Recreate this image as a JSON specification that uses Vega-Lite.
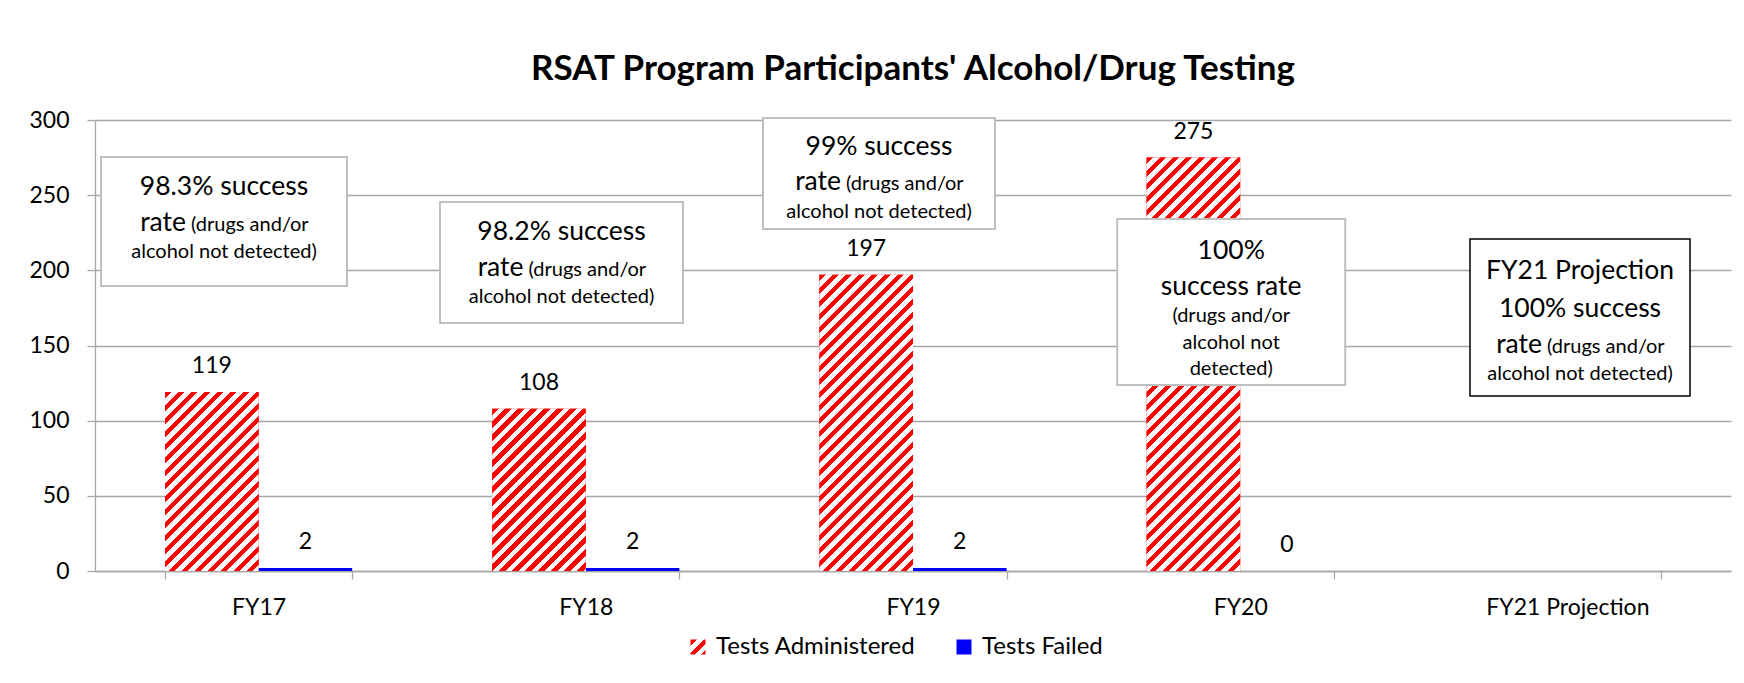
{
  "$schema": "https://vega.github.io/schema/vega-lite/v6.json",
  "width": 1636,
  "height": 451,
  "autosize": {"type": "none"},
  "padding": {"left": 95, "top": 120, "right": 13, "bottom": 112},
  "background": "#ffffff",
  "config": {
    "font": "Lato",
    "view": {"stroke": null},
    "axis": {"labelFont": "Lato", "labelFontSize": 23, "labelColor": "#000000", "domainColor": "#a6a6a6", "tickColor": "#a6a6a6", "gridColor": "#a6a6a6", "tickSize": 8, "domainWidth": 1.3, "tickWidth": 1.3, "gridWidth": 1.3}
  },
  "title": {"text": "RSAT Program Participants' Alcohol/Drug Testing", "font": "Lato", "fontSize": 35, "fontWeight": "bold", "color": "#000000", "anchor": "middle", "baseline": "alphabetic", "offset": -6},
  "params": [
    {"name": "stripes", "value": [
      {"offset":0,"color":"#f00"},{"offset":0.0083,"color":"#f00"},{"offset":0.0083,"color":"#fff"},{"offset":0.0167,"color":"#fff"},
      {"offset":0.0167,"color":"#f00"},{"offset":0.025,"color":"#f00"},{"offset":0.025,"color":"#fff"},{"offset":0.0333,"color":"#fff"},
      {"offset":0.0333,"color":"#f00"},{"offset":0.0417,"color":"#f00"},{"offset":0.0417,"color":"#fff"},{"offset":0.05,"color":"#fff"},
      {"offset":0.05,"color":"#f00"},{"offset":0.0583,"color":"#f00"},{"offset":0.0583,"color":"#fff"},{"offset":0.0667,"color":"#fff"},
      {"offset":0.0667,"color":"#f00"},{"offset":0.075,"color":"#f00"},{"offset":0.075,"color":"#fff"},{"offset":0.0833,"color":"#fff"},
      {"offset":0.0833,"color":"#f00"},{"offset":0.0917,"color":"#f00"},{"offset":0.0917,"color":"#fff"},{"offset":0.1,"color":"#fff"},
      {"offset":0.1,"color":"#f00"},{"offset":0.1083,"color":"#f00"},{"offset":0.1083,"color":"#fff"},{"offset":0.1167,"color":"#fff"},
      {"offset":0.1167,"color":"#f00"},{"offset":0.125,"color":"#f00"},{"offset":0.125,"color":"#fff"},{"offset":0.1333,"color":"#fff"},
      {"offset":0.1333,"color":"#f00"},{"offset":0.1417,"color":"#f00"},{"offset":0.1417,"color":"#fff"},{"offset":0.15,"color":"#fff"},
      {"offset":0.15,"color":"#f00"},{"offset":0.1583,"color":"#f00"},{"offset":0.1583,"color":"#fff"},{"offset":0.1667,"color":"#fff"},
      {"offset":0.1667,"color":"#f00"},{"offset":0.175,"color":"#f00"},{"offset":0.175,"color":"#fff"},{"offset":0.1833,"color":"#fff"},
      {"offset":0.1833,"color":"#f00"},{"offset":0.1917,"color":"#f00"},{"offset":0.1917,"color":"#fff"},{"offset":0.2,"color":"#fff"},
      {"offset":0.2,"color":"#f00"},{"offset":0.2083,"color":"#f00"},{"offset":0.2083,"color":"#fff"},{"offset":0.2167,"color":"#fff"},
      {"offset":0.2167,"color":"#f00"},{"offset":0.225,"color":"#f00"},{"offset":0.225,"color":"#fff"},{"offset":0.2333,"color":"#fff"},
      {"offset":0.2333,"color":"#f00"},{"offset":0.2417,"color":"#f00"},{"offset":0.2417,"color":"#fff"},{"offset":0.25,"color":"#fff"},
      {"offset":0.25,"color":"#f00"},{"offset":0.2583,"color":"#f00"},{"offset":0.2583,"color":"#fff"},{"offset":0.2667,"color":"#fff"},
      {"offset":0.2667,"color":"#f00"},{"offset":0.275,"color":"#f00"},{"offset":0.275,"color":"#fff"},{"offset":0.2833,"color":"#fff"},
      {"offset":0.2833,"color":"#f00"},{"offset":0.2917,"color":"#f00"},{"offset":0.2917,"color":"#fff"},{"offset":0.3,"color":"#fff"},
      {"offset":0.3,"color":"#f00"},{"offset":0.3083,"color":"#f00"},{"offset":0.3083,"color":"#fff"},{"offset":0.3167,"color":"#fff"},
      {"offset":0.3167,"color":"#f00"},{"offset":0.325,"color":"#f00"},{"offset":0.325,"color":"#fff"},{"offset":0.3333,"color":"#fff"},
      {"offset":0.3333,"color":"#f00"},{"offset":0.3417,"color":"#f00"},{"offset":0.3417,"color":"#fff"},{"offset":0.35,"color":"#fff"},
      {"offset":0.35,"color":"#f00"},{"offset":0.3583,"color":"#f00"},{"offset":0.3583,"color":"#fff"},{"offset":0.3667,"color":"#fff"},
      {"offset":0.3667,"color":"#f00"},{"offset":0.375,"color":"#f00"},{"offset":0.375,"color":"#fff"},{"offset":0.3833,"color":"#fff"},
      {"offset":0.3833,"color":"#f00"},{"offset":0.3917,"color":"#f00"},{"offset":0.3917,"color":"#fff"},{"offset":0.4,"color":"#fff"},
      {"offset":0.4,"color":"#f00"},{"offset":0.4083,"color":"#f00"},{"offset":0.4083,"color":"#fff"},{"offset":0.4167,"color":"#fff"},
      {"offset":0.4167,"color":"#f00"},{"offset":0.425,"color":"#f00"},{"offset":0.425,"color":"#fff"},{"offset":0.4333,"color":"#fff"},
      {"offset":0.4333,"color":"#f00"},{"offset":0.4417,"color":"#f00"},{"offset":0.4417,"color":"#fff"},{"offset":0.45,"color":"#fff"},
      {"offset":0.45,"color":"#f00"},{"offset":0.4583,"color":"#f00"},{"offset":0.4583,"color":"#fff"},{"offset":0.4667,"color":"#fff"},
      {"offset":0.4667,"color":"#f00"},{"offset":0.475,"color":"#f00"},{"offset":0.475,"color":"#fff"},{"offset":0.4833,"color":"#fff"},
      {"offset":0.4833,"color":"#f00"},{"offset":0.4917,"color":"#f00"},{"offset":0.4917,"color":"#fff"},{"offset":0.5,"color":"#fff"},
      {"offset":0.5,"color":"#f00"},{"offset":0.5083,"color":"#f00"},{"offset":0.5083,"color":"#fff"},{"offset":0.5167,"color":"#fff"},
      {"offset":0.5167,"color":"#f00"},{"offset":0.525,"color":"#f00"},{"offset":0.525,"color":"#fff"},{"offset":0.5333,"color":"#fff"},
      {"offset":0.5333,"color":"#f00"},{"offset":0.5417,"color":"#f00"},{"offset":0.5417,"color":"#fff"},{"offset":0.55,"color":"#fff"},
      {"offset":0.55,"color":"#f00"},{"offset":0.5583,"color":"#f00"},{"offset":0.5583,"color":"#fff"},{"offset":0.5667,"color":"#fff"},
      {"offset":0.5667,"color":"#f00"},{"offset":0.575,"color":"#f00"},{"offset":0.575,"color":"#fff"},{"offset":0.5833,"color":"#fff"},
      {"offset":0.5833,"color":"#f00"},{"offset":0.5917,"color":"#f00"},{"offset":0.5917,"color":"#fff"},{"offset":0.6,"color":"#fff"},
      {"offset":0.6,"color":"#f00"},{"offset":0.6083,"color":"#f00"},{"offset":0.6083,"color":"#fff"},{"offset":0.6167,"color":"#fff"},
      {"offset":0.6167,"color":"#f00"},{"offset":0.625,"color":"#f00"},{"offset":0.625,"color":"#fff"},{"offset":0.6333,"color":"#fff"},
      {"offset":0.6333,"color":"#f00"},{"offset":0.6417,"color":"#f00"},{"offset":0.6417,"color":"#fff"},{"offset":0.65,"color":"#fff"},
      {"offset":0.65,"color":"#f00"},{"offset":0.6583,"color":"#f00"},{"offset":0.6583,"color":"#fff"},{"offset":0.6667,"color":"#fff"},
      {"offset":0.6667,"color":"#f00"},{"offset":0.675,"color":"#f00"},{"offset":0.675,"color":"#fff"},{"offset":0.6833,"color":"#fff"},
      {"offset":0.6833,"color":"#f00"},{"offset":0.6917,"color":"#f00"},{"offset":0.6917,"color":"#fff"},{"offset":0.7,"color":"#fff"},
      {"offset":0.7,"color":"#f00"},{"offset":0.7083,"color":"#f00"},{"offset":0.7083,"color":"#fff"},{"offset":0.7167,"color":"#fff"},
      {"offset":0.7167,"color":"#f00"},{"offset":0.725,"color":"#f00"},{"offset":0.725,"color":"#fff"},{"offset":0.7333,"color":"#fff"},
      {"offset":0.7333,"color":"#f00"},{"offset":0.7417,"color":"#f00"},{"offset":0.7417,"color":"#fff"},{"offset":0.75,"color":"#fff"},
      {"offset":0.75,"color":"#f00"},{"offset":0.7583,"color":"#f00"},{"offset":0.7583,"color":"#fff"},{"offset":0.7667,"color":"#fff"},
      {"offset":0.7667,"color":"#f00"},{"offset":0.775,"color":"#f00"},{"offset":0.775,"color":"#fff"},{"offset":0.7833,"color":"#fff"},
      {"offset":0.7833,"color":"#f00"},{"offset":0.7917,"color":"#f00"},{"offset":0.7917,"color":"#fff"},{"offset":0.8,"color":"#fff"},
      {"offset":0.8,"color":"#f00"},{"offset":0.8083,"color":"#f00"},{"offset":0.8083,"color":"#fff"},{"offset":0.8167,"color":"#fff"},
      {"offset":0.8167,"color":"#f00"},{"offset":0.825,"color":"#f00"},{"offset":0.825,"color":"#fff"},{"offset":0.8333,"color":"#fff"},
      {"offset":0.8333,"color":"#f00"},{"offset":0.8417,"color":"#f00"},{"offset":0.8417,"color":"#fff"},{"offset":0.85,"color":"#fff"},
      {"offset":0.85,"color":"#f00"},{"offset":0.8583,"color":"#f00"},{"offset":0.8583,"color":"#fff"},{"offset":0.8667,"color":"#fff"},
      {"offset":0.8667,"color":"#f00"},{"offset":0.875,"color":"#f00"},{"offset":0.875,"color":"#fff"},{"offset":0.8833,"color":"#fff"},
      {"offset":0.8833,"color":"#f00"},{"offset":0.8917,"color":"#f00"},{"offset":0.8917,"color":"#fff"},{"offset":0.9,"color":"#fff"},
      {"offset":0.9,"color":"#f00"},{"offset":0.9083,"color":"#f00"},{"offset":0.9083,"color":"#fff"},{"offset":0.9167,"color":"#fff"},
      {"offset":0.9167,"color":"#f00"},{"offset":0.925,"color":"#f00"},{"offset":0.925,"color":"#fff"},{"offset":0.9333,"color":"#fff"},
      {"offset":0.9333,"color":"#f00"},{"offset":0.9417,"color":"#f00"},{"offset":0.9417,"color":"#fff"},{"offset":0.95,"color":"#fff"},
      {"offset":0.95,"color":"#f00"},{"offset":0.9583,"color":"#f00"},{"offset":0.9583,"color":"#fff"},{"offset":0.9667,"color":"#fff"},
      {"offset":0.9667,"color":"#f00"},{"offset":0.975,"color":"#f00"},{"offset":0.975,"color":"#fff"},{"offset":0.9833,"color":"#fff"},
      {"offset":0.9833,"color":"#f00"},{"offset":0.9917,"color":"#f00"},{"offset":0.9917,"color":"#fff"},{"offset":1,"color":"#fff"}
    ]}
  ],
  "datasets": {
    "tests": [
      {"year": "FY17", "series": "Tests Administered", "value": 119},
      {"year": "FY17", "series": "Tests Failed", "value": 2},
      {"year": "FY18", "series": "Tests Administered", "value": 108},
      {"year": "FY18", "series": "Tests Failed", "value": 2},
      {"year": "FY19", "series": "Tests Administered", "value": 197},
      {"year": "FY19", "series": "Tests Failed", "value": 2},
      {"year": "FY20", "series": "Tests Administered", "value": 275},
      {"year": "FY20", "series": "Tests Failed", "value": 0}
    ]
  },
  "layer": [
    {
      "data": {"name": "tests"},
      "mark": {"type": "bar"},
      "encoding": {
        "x": {"field": "year", "type": "nominal", "title": null, "sort": null,
              "scale": {"domain": ["FY17", "FY18", "FY19", "FY20", "FY21 Projection"], "paddingInner": 0.428, "paddingOuter": 0.214},
              "axis": {"labelAngle": 0, "tickBand": "extent", "labelPadding": 17, "grid": false}},
        "xOffset": {"field": "series", "type": "nominal", "scale": {"domain": ["Tests Administered", "Tests Failed"], "paddingInner": 0, "paddingOuter": 0}},
        "y": {"field": "value", "type": "quantitative", "title": null, "stack": null,
              "scale": {"domain": [0, 300], "nice": false},
              "axis": {"values": [0, 50, 100, 150, 200, 250, 300], "grid": true, "labelPadding": 18}},
        "fill": {"condition": {"test": "datum.series === 'Tests Failed'", "value": "#0000ff"}, "value": "#ff0000"}
      }
    },
    {
      "data": {"name": "tests"},
      "transform": [{"filter": "datum.series === 'Tests Administered'"}],
      "mark": {"type": "bar", "fill": {"expr": "{gradient: 'linear', x1: 0, y1: 0, x2: bandwidth('xOffset') * 780 / (pow(bandwidth('xOffset'), 2) + pow(scale('y', 0) - scale('y', datum.value), 2)), y2: (scale('y', 0) - scale('y', datum.value)) * 780 / (pow(bandwidth('xOffset'), 2) + pow(scale('y', 0) - scale('y', datum.value), 2)), stops: stripes}"}},
      "encoding": {
        "x": {"field": "year", "type": "nominal", "title": null, "sort": null},
        "xOffset": {"field": "series", "type": "nominal"},
        "y": {"field": "value", "type": "quantitative", "title": null, "stack": null}
      }
    },
    {
      "data": {"name": "tests"},
      "transform": [{"filter": "false"}],
      "mark": {"type": "point", "filled": true, "opacity": 1, "size": 225, "strokeWidth": 0,
               "fill": {"expr": "datum.value === 'Tests Administered' ? {gradient: 'linear', x1: 0, y1: 0, x2: 26, y2: 26, stops: stripes} : '#0000ff'"}},
      "encoding": {
        "x": {"field": "year", "type": "nominal", "title": null, "sort": null},
        "y": {"field": "value", "type": "quantitative", "title": null},
        "shape": {"field": "series", "type": "nominal",
                  "scale": {"domain": ["Tests Administered", "Tests Failed"], "range": ["square", "square"]},
                  "legend": {"orient": "none", "legendX": 591, "legendY": 515, "direction": "horizontal", "title": null,
                             "symbolSize": 225, "symbolStrokeWidth": 0, "symbolOpacity": 1, "labelLimit": 400,
                             "labelFont": "Lato", "labelFontSize": 24, "labelColor": "#000000", "labelOffset": 6, "columnPadding": 36}}
      }
    },
    {
      "data": {"name": "tests"},
      "mark": {"type": "text", "font": "Lato", "fontSize": 23, "fill": "#000000", "baseline": "alphabetic", "dy": -19},
      "encoding": {
        "x": {"field": "year", "type": "nominal", "title": null, "sort": null},
        "xOffset": {"field": "series", "type": "nominal"},
        "y": {"field": "value", "type": "quantitative", "title": null, "stack": null},
        "text": {"field": "value", "type": "quantitative"}
      }
    },
    {
      "data": {"values": [{"year": "FY17", "top": 275.4, "bottom": 189.6, "big": "98.3% success", "rate": "rate", "paren": "(drugs and/or", "small": "alcohol not detected)"}]},
      "encoding": {"x": {"field": "year", "type": "nominal", "title": null, "sort": null}, "y": {"field": "top", "type": "quantitative", "title": null}},
      "layer": [
        {"mark": {"type": "bar", "width": 246, "xOffset": -34.6, "fill": "#ffffff", "stroke": "#bfbfbf", "strokeWidth": 2}, "encoding": {"y2": {"field": "bottom"}}},
        {"mark": {"type": "text", "font": "Lato", "fontSize": 26.5, "fill": "#000000", "align": "center", "baseline": "alphabetic", "dy": 38, "xOffset": -34.6}, "encoding": {"text": {"field": "big"}}},
        {"mark": {"type": "text", "font": "Lato", "fontSize": 26.5, "fill": "#000000", "align": "right", "baseline": "alphabetic", "dy": 74, "xOffset": -72.6}, "encoding": {"text": {"field": "rate"}}},
        {"mark": {"type": "text", "font": "Lato", "fontSize": 20, "fill": "#000000", "align": "left", "baseline": "alphabetic", "dy": 74, "xOffset": -67.6}, "encoding": {"text": {"field": "paren"}}},
        {"mark": {"type": "text", "font": "Lato", "fontSize": 20, "fill": "#000000", "align": "center", "baseline": "alphabetic", "dy": 101, "xOffset": -34.6}, "encoding": {"text": {"field": "small"}}}
      ]
    },
    {
      "data": {"values": [{"year": "FY18", "top": 245.5, "bottom": 165.0, "big": "98.2% success", "rate": "rate", "paren": "(drugs and/or", "small": "alcohol not detected)"}]},
      "encoding": {"x": {"field": "year", "type": "nominal", "title": null, "sort": null}, "y": {"field": "top", "type": "quantitative", "title": null}},
      "layer": [
        {"mark": {"type": "bar", "width": 243, "xOffset": -24.3, "fill": "#ffffff", "stroke": "#bfbfbf", "strokeWidth": 2}, "encoding": {"y2": {"field": "bottom"}}},
        {"mark": {"type": "text", "font": "Lato", "fontSize": 26.5, "fill": "#000000", "align": "center", "baseline": "alphabetic", "dy": 38, "xOffset": -24.3}, "encoding": {"text": {"field": "big"}}},
        {"mark": {"type": "text", "font": "Lato", "fontSize": 26.5, "fill": "#000000", "align": "right", "baseline": "alphabetic", "dy": 74, "xOffset": -62.3}, "encoding": {"text": {"field": "rate"}}},
        {"mark": {"type": "text", "font": "Lato", "fontSize": 20, "fill": "#000000", "align": "left", "baseline": "alphabetic", "dy": 74, "xOffset": -57.3}, "encoding": {"text": {"field": "paren"}}},
        {"mark": {"type": "text", "font": "Lato", "fontSize": 20, "fill": "#000000", "align": "center", "baseline": "alphabetic", "dy": 101, "xOffset": -24.3}, "encoding": {"text": {"field": "small"}}}
      ]
    },
    {
      "data": {"values": [{"year": "FY19", "top": 301.3, "bottom": 227.5, "big": "99% success", "rate": "rate", "paren": "(drugs and/or", "small": "alcohol not detected)"}]},
      "encoding": {"x": {"field": "year", "type": "nominal", "title": null, "sort": null}, "y": {"field": "top", "type": "quantitative", "title": null}},
      "layer": [
        {"mark": {"type": "bar", "width": 232, "xOffset": -34, "fill": "#ffffff", "stroke": "#bfbfbf", "strokeWidth": 2}, "encoding": {"y2": {"field": "bottom"}}},
        {"mark": {"type": "text", "font": "Lato", "fontSize": 26.5, "fill": "#000000", "align": "center", "baseline": "alphabetic", "dy": 37, "xOffset": -34}, "encoding": {"text": {"field": "big"}}},
        {"mark": {"type": "text", "font": "Lato", "fontSize": 26.5, "fill": "#000000", "align": "right", "baseline": "alphabetic", "dy": 72, "xOffset": -72}, "encoding": {"text": {"field": "rate"}}},
        {"mark": {"type": "text", "font": "Lato", "fontSize": 20, "fill": "#000000", "align": "left", "baseline": "alphabetic", "dy": 72, "xOffset": -67}, "encoding": {"text": {"field": "paren"}}},
        {"mark": {"type": "text", "font": "Lato", "fontSize": 20, "fill": "#000000", "align": "center", "baseline": "alphabetic", "dy": 100, "xOffset": -34}, "encoding": {"text": {"field": "small"}}}
      ]
    },
    {
      "data": {"values": [{"year": "FY20", "top": 234.1, "bottom": 123.7, "big": ["100%", "success rate"], "small": ["(drugs and/or", "alcohol not", "detected)"]}]},
      "encoding": {"x": {"field": "year", "type": "nominal", "title": null, "sort": null}, "y": {"field": "top", "type": "quantitative", "title": null}},
      "layer": [
        {"mark": {"type": "bar", "width": 228, "xOffset": -9, "fill": "#ffffff", "stroke": "#bfbfbf", "strokeWidth": 2}, "encoding": {"y2": {"field": "bottom"}}},
        {"mark": {"type": "text", "font": "Lato", "fontSize": 26.5, "fill": "#000000", "align": "center", "baseline": "alphabetic", "dy": 40, "lineHeight": 36, "xOffset": -9}, "encoding": {"text": {"field": "big"}}},
        {"mark": {"type": "text", "font": "Lato", "fontSize": 20, "fill": "#000000", "align": "center", "baseline": "alphabetic", "dy": 103, "lineHeight": 26.5, "xOffset": -9}, "encoding": {"text": {"field": "small"}}}
      ]
    },
    {
      "data": {"values": [{"year": "FY21 Projection", "top": 220.8, "bottom": 116.4, "big": ["FY21 Projection", "100% success"], "rate": "rate", "paren": "(drugs and/or", "small": "alcohol not detected)"}]},
      "encoding": {"x": {"field": "year", "type": "nominal", "title": null, "sort": null}, "y": {"field": "top", "type": "quantitative", "title": null}},
      "layer": [
        {"mark": {"type": "bar", "width": 220, "xOffset": 12.6, "fill": "#ffffff", "stroke": "#000000", "strokeWidth": 1.5}, "encoding": {"y2": {"field": "bottom"}}},
        {"mark": {"type": "text", "font": "Lato", "fontSize": 26.5, "fill": "#000000", "align": "center", "baseline": "alphabetic", "dy": 40, "lineHeight": 38, "xOffset": 12.6}, "encoding": {"text": {"field": "big"}}},
        {"mark": {"type": "text", "font": "Lato", "fontSize": 26.5, "fill": "#000000", "align": "right", "baseline": "alphabetic", "dy": 114, "xOffset": -25.4}, "encoding": {"text": {"field": "rate"}}},
        {"mark": {"type": "text", "font": "Lato", "fontSize": 20, "fill": "#000000", "align": "left", "baseline": "alphabetic", "dy": 114, "xOffset": -20.4}, "encoding": {"text": {"field": "paren"}}},
        {"mark": {"type": "text", "font": "Lato", "fontSize": 20, "fill": "#000000", "align": "center", "baseline": "alphabetic", "dy": 141, "xOffset": 12.6}, "encoding": {"text": {"field": "small"}}}
      ]
    }
  ]
}
